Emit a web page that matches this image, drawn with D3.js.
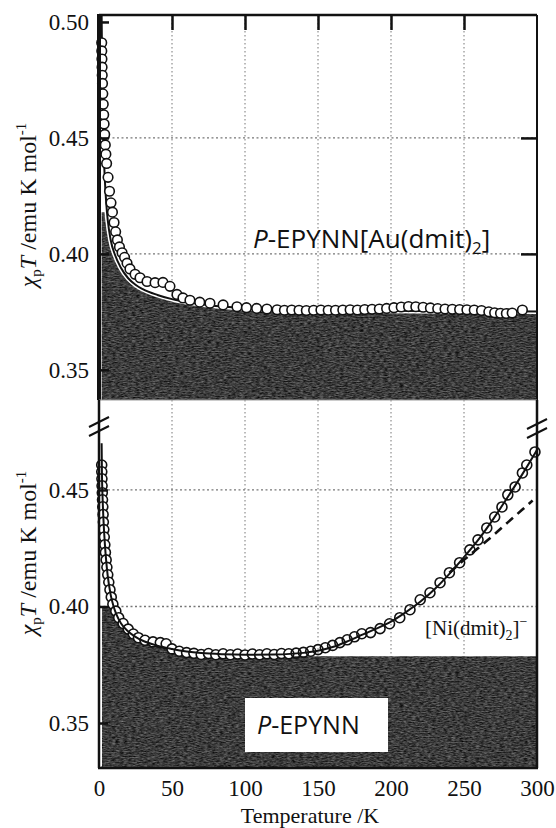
<!DOCTYPE html>
<html>
<head>
<meta charset="utf-8">
<script src="https://cdn.jsdelivr.net/npm/d3@7"></script>
<style>
  body { margin: 0; background: #fff; }
  svg { display: block; }
  .serif { font-family: "Liberation Serif", "Times New Roman", serif; fill: #111; }
  .sans { font-family: "Open Sans", Lato, sans-serif; fill: #111; }
</style>
</head>
<body>
<div id="chart"></div>
<script>
// top panel: P-EPYNN[Au(dmit)2]
var topT = [1.85, 1.9, 2.0, 2.1, 2.2, 2.4, 2.6, 2.9, 3.2, 3.5, 3.9, 4.3, 4.7, 5.2, 6.2, 7.2, 8.2, 9.2, 10.3, 11.4,
  12.6, 14.0, 15.8, 17.5, 19.2, 21.2, 24.7, 28.1, 32.9, 38.4, 43.8, 48.6, 53.4, 57.5, 62.3, 69, 76, 85, 94.5, 101,
  108, 115, 122, 127, 132, 137, 142, 147, 152, 157, 162, 167, 172, 177, 182, 187, 192, 197, 202, 207,
  212, 217, 222, 227, 232, 237, 242, 247, 252, 257, 262, 267, 271, 275, 279, 283, 290];
var topChiT = [0.491, 0.4875, 0.484, 0.4805, 0.477, 0.4735, 0.469, 0.4645, 0.460, 0.456, 0.4515, 0.447, 0.443, 0.439, 0.433, 0.427, 0.422, 0.418, 0.4135, 0.4095,
  0.4060, 0.4030, 0.4005, 0.3985, 0.3960, 0.3935, 0.3912, 0.3897, 0.3881, 0.3876, 0.3877, 0.3860, 0.3825, 0.3810, 0.3800, 0.3792, 0.3787, 0.3780, 0.3772, 0.3768,
  0.3765, 0.3762, 0.3759, 0.3757, 0.3758, 0.3757, 0.3756, 0.3757, 0.3758, 0.3757, 0.3757, 0.3758, 0.3759, 0.3758, 0.3760, 0.3761, 0.3762, 0.3765, 0.3768, 0.3771,
  0.3773, 0.3772, 0.3770, 0.3767, 0.3764, 0.3762, 0.3761, 0.3760, 0.3759, 0.3758, 0.3756, 0.3750, 0.3746, 0.3744, 0.3743, 0.3745, 0.3758];
var topFitT = [1.8, 2.0, 2.3, 2.7, 3.2, 4, 5, 6, 8, 11, 15, 20, 25, 30, 40, 50, 60, 80, 100, 150, 200, 250, 300];
var topFitChiT = [0.503, 0.490, 0.474, 0.458, 0.445, 0.432, 0.4215, 0.4145, 0.406, 0.3995, 0.394, 0.3895, 0.3867, 0.3848, 0.3823, 0.3805, 0.3792, 0.3775, 0.3766, 0.3758, 0.3755, 0.3753, 0.3752];

// bottom panel: P-EPYNN[Ni(dmit)2]
var botT = [1.85, 1.9, 2.0, 2.1, 2.25, 2.4, 2.6, 2.8, 3.0, 3.3, 3.6, 4.0, 4.4, 4.9, 5.4, 6.0, 6.7, 7.5, 8.4, 9.5,
  11.5, 13.5, 16.5, 20, 23.5, 27, 31.5, 37, 42, 46, 50, 55, 60, 65, 70, 75, 80, 85, 90, 95,
  100, 105, 110, 115, 120, 125, 130, 135, 140, 145, 150, 155, 160, 165, 170, 175, 180, 186, 192.5, 199,
  206, 213, 220, 226.7, 233.6, 240, 247, 254, 259.6, 265.6, 271, 276, 280, 285, 290, 293, 298.6];
var botChiT = [0.4607, 0.4578, 0.4548, 0.4518, 0.4488, 0.4458, 0.4428, 0.4395, 0.4362, 0.4330, 0.4298, 0.4265, 0.4232, 0.4200, 0.4168, 0.4136, 0.4104, 0.4072, 0.4040, 0.4010,
  0.3980, 0.3952, 0.3927, 0.3903, 0.3882, 0.3866, 0.3855, 0.3848, 0.3845, 0.3840, 0.3818, 0.3808, 0.3802, 0.3799, 0.3794, 0.3798, 0.3793, 0.3797, 0.3793, 0.3796,
  0.3792, 0.3796, 0.3793, 0.3797, 0.3794, 0.3798, 0.3797, 0.3800, 0.3803, 0.3808, 0.3815, 0.3823, 0.3833, 0.3845, 0.3857, 0.3870, 0.3883, 0.3888, 0.3905, 0.3926,
  0.3952, 0.3986, 0.4029, 0.4059, 0.4102, 0.4145, 0.4188, 0.4243, 0.4286, 0.4337, 0.4384, 0.4427, 0.4479, 0.4513, 0.4573, 0.4607, 0.4663];
var botFitT = [1.8, 2.0, 2.5, 3, 4, 5, 6, 8, 10, 12, 15, 20, 25, 30, 40, 50, 60, 70, 85, 100,
  120, 140, 150, 160, 170, 180, 190, 200, 210, 220, 230, 240, 250, 260, 270, 280, 290, 300];
var botFitChiT = [0.470, 0.458, 0.446, 0.438, 0.427, 0.419, 0.413, 0.405, 0.400, 0.3965, 0.3928, 0.3893, 0.3870, 0.3853, 0.3832, 0.3818, 0.3807, 0.3800, 0.3795, 0.3793,
  0.3794, 0.3801, 0.3810, 0.3826, 0.3850, 0.3878, 0.3905, 0.3935, 0.3975, 0.4020, 0.4075, 0.4140, 0.4212, 0.4288, 0.4375, 0.4470, 0.4568, 0.4672];
// dashed curve: [Ni(dmit)2]- contribution
var dashT = [240, 250, 260, 270, 280, 290, 297];
var dashChiT = [0.4145, 0.4200, 0.4252, 0.4305, 0.4361, 0.4416, 0.4455];

var xTicks = [0, 50, 100, 150, 200, 250, 300];
var yTicksTop = [0.35, 0.40, 0.45, 0.50];
var yTicksBot = [0.35, 0.40, 0.45];

var width = 556, height = 828;
var left = 99, right = 537;
var topY0 = 15, topY1 = 400, botY0 = 400, botY1 = 768;
var serifFont = '"Liberation Serif", "Times New Roman", serif';

var x = d3.scaleLinear().domain([0, 300]).range([left, right]);
var yTop = d3.scaleLinear().domain([0.337, 0.503]).range([topY1, topY0]);
var yBot = d3.scaleLinear().domain([0.3307, 0.4886]).range([botY1, botY0]);

var svg = d3.select('#chart').append('svg')
  .attr('width', width)
  .attr('height', height);

// grainy dark fill like the scanned figure
var f = svg.append('defs').append('filter')
  .attr('id', 'grain')
  .attr('x', 0).attr('y', 0).attr('width', '100%').attr('height', '100%')
  .attr('color-interpolation-filters', 'sRGB');
f.append('feTurbulence').attr('type', 'fractalNoise').attr('baseFrequency', '0.25 0.8')
  .attr('numOctaves', 3).attr('seed', 5).attr('result', 'n');
f.append('feColorMatrix').attr('in', 'n').attr('type', 'matrix')
  .attr('values', '0.55 0 0 0 -0.04  0.55 0 0 0 -0.04  0.55 0 0 0 -0.04  0 0 0 0 1').attr('result', 'g');
f.append('feComposite').attr('in', 'g').attr('in2', 'SourceGraphic').attr('operator', 'in');

function pairs(t, v) { return t.map(function (d, i) { return [d, v[i]]; }); }

// grid lines
function grid(yScale, y0, y1, hVals) {
  var g = svg.append('g');
  g.selectAll('line.v').data([50, 100, 150, 200, 250]).enter().append('line')
    .attr('x1', function (d) { return x(d); }).attr('x2', function (d) { return x(d); })
    .attr('y1', y0).attr('y2', y1)
    .attr('stroke', '#777').attr('stroke-width', 1).attr('stroke-dasharray', '1.5,2.5');
  g.selectAll('line.h').data(hVals).enter().append('line')
    .attr('x1', left).attr('x2', right)
    .attr('y1', function (d) { return yScale(d); }).attr('y2', function (d) { return yScale(d); })
    .attr('stroke', '#777').attr('stroke-width', 1.3).attr('stroke-dasharray', '2,2.5');
}
grid(yTop, topY0, topY1, [0.45, 0.40]);
grid(yBot, botY0, botY1, [0.45, 0.40]);

// dark shading under the curves
var topFit = pairs(topFitT, topFitChiT);
var botFit = pairs(botFitT, botFitChiT);
var botMin = d3.least(botFit, function (d) { return d[1]; });

svg.append('path')
  .datum(topFit)
  .attr('d', d3.area().curve(d3.curveMonotoneX)
    .x(function (d) { return x(d[0]); })
    .y0(topY1)
    .y1(function (d) { return yTop(Math.min(d[1], 0.418)); }))
  .style('fill', '#444')
  .attr('filter', 'url(#grain)');

svg.append('path')
  .datum(botFit.map(function (d) {
    return [d[0], d[0] <= botMin[0] ? Math.min(d[1], 0.40) : botMin[1] - 0.0006];
  }))
  .attr('d', d3.area().curve(d3.curveMonotoneX)
    .x(function (d) { return x(d[0]); })
    .y0(botY1)
    .y1(function (d) { return yBot(d[1]); }))
  .style('fill', '#444')
  .attr('filter', 'url(#grain)');

// white gap between axis and shading in lower panel
svg.append('line').attr('x1', left + 2).attr('x2', left + 2).attr('y1', yBot(0.40)).attr('y2', botY1 - 2)
  .attr('stroke', '#fff').attr('stroke-width', 2);

var lineTop = d3.line().curve(d3.curveMonotoneX)
  .x(function (d) { return x(d[0]); }).y(function (d) { return yTop(d[1]); });
var lineBot = d3.line().curve(d3.curveMonotoneX)
  .x(function (d) { return x(d[0]); }).y(function (d) { return yBot(d[1]); });

// top: fit line under open circles
svg.append('path').datum(topFit).attr('d', lineTop)
  .attr('fill', 'none').attr('stroke', '#fff').attr('stroke-width', 5);
svg.append('path').datum(topFit).attr('d', lineTop)
  .attr('fill', 'none').attr('stroke', '#111').attr('stroke-width', 2);

svg.append('g').selectAll('circle')
  .data(pairs(topT, topChiT))
  .enter()
  .append('circle')
  .attr('cx', function (d) { return x(d[0]); })
  .attr('cy', function (d) { return yTop(d[1]); })
  .attr('r', 4.8)
  .style('fill', '#fff')
  .style('stroke', '#111')
  .style('stroke-width', 1.6);

// bottom: circles, then fit lines through them
svg.append('g').selectAll('circle')
  .data(pairs(botT, botChiT))
  .enter()
  .append('circle')
  .attr('cx', function (d) { return x(d[0]); })
  .attr('cy', function (d) { return yBot(d[1]); })
  .attr('r', 5)
  .style('fill', function (d) { return d[0] > 130 ? 'none' : '#fff'; })
  .style('stroke', '#111')
  .style('stroke-width', 1.6);

svg.append('path').datum(pairs(dashT, dashChiT)).attr('d', lineBot)
  .attr('fill', 'none').attr('stroke', '#111').attr('stroke-width', 2.6)
  .attr('stroke-dasharray', '9,6');
svg.append('path').datum(botFit).attr('d', lineBot)
  .attr('fill', 'none').attr('stroke', '#111').attr('stroke-width', 2);

// frames
function seg(x1, y1, x2, y2, w, c) {
  svg.append('line').attr('x1', x1).attr('y1', y1).attr('x2', x2).attr('y2', y2)
    .attr('stroke', c || '#111').attr('stroke-width', w);
}
seg(left, topY0, right, topY0, 2.5);
seg(right, topY0, right, topY1, 2);
seg(left, topY0 - 1, left, topY1, 4);
seg(left, topY1, right, topY1, 1, '#999');
seg(left, botY0, left, botY1, 2.5);
seg(right, botY0, right, botY1, 2.5);
seg(left - 1, botY1, right + 1, botY1, 2.5);

// axis break marks
[[left, 422], [left, 431], [right, 424], [right, 433]].forEach(function (p) {
  seg(p[0] - 10, p[1] + 5, p[0] + 10, p[1] - 5, 2);
});

// ticks and tick labels
function styleAxis(g) {
  g.select('.domain').remove();
  g.attr('font-family', serifFont).attr('font-size', 23);
  g.selectAll('text').attr('fill', '#111');
  g.selectAll('line').attr('stroke', '#111').attr('stroke-width', 2.5);
}

svg.append('g').attr('transform', 'translate(0,' + topY0 + ')')
  .call(d3.axisTop(x).tickValues([50, 100, 150, 200, 250]).tickSize(-15).tickFormat(''))
  .call(styleAxis);

svg.append('g').attr('transform', 'translate(' + right + ',0)')
  .call(d3.axisRight(yTop).tickValues([0.45, 0.40]).tickSize(-16).tickFormat(''))
  .call(styleAxis);

svg.append('g').attr('transform', 'translate(' + left + ',0)')
  .call(d3.axisLeft(yTop).tickValues(yTicksTop).tickSize(-10).tickPadding(10).tickFormat(d3.format('.2f')))
  .call(styleAxis);

svg.append('g').attr('transform', 'translate(' + left + ',0)')
  .call(d3.axisLeft(yBot).tickValues(yTicksBot).tickSize(-9).tickPadding(10).tickFormat(d3.format('.2f')))
  .call(styleAxis);

svg.append('g').attr('transform', 'translate(0,' + botY1 + ')')
  .call(d3.axisBottom(x).tickValues(xTicks).tickSize(0).tickPadding(12).tickFormat(d3.format('d')))
  .call(styleAxis);

// axis titles
svg.append('text').attr('class', 'serif')
  .attr('x', 310).attr('y', 823)
  .attr('text-anchor', 'middle')
  .style('font-size', '22px')
  .text('Temperature /K');

function yLabel(cy) {
  var t = svg.append('text').attr('class', 'serif')
    .attr('transform', 'translate(36,' + cy + ') rotate(-90)')
    .attr('text-anchor', 'middle')
    .style('font-size', '24px');
  t.append('tspan').style('font-style', 'italic').text('\u03c7');
  t.append('tspan').attr('dy', 5).style('font-size', '15px').text('p');
  t.append('tspan').attr('dy', -5).style('font-style', 'italic').text('T');
  t.append('tspan').text(' /emu K mol');
  t.append('tspan').attr('dy', -10).style('font-size', '15px').text('-1');
}
yLabel(205);
yLabel(553);

// compound labels
var t1 = svg.append('text').attr('class', 'sans')
  .attr('x', 253).attr('y', 248)
  .style('font-size', '26px');
t1.append('tspan').style('font-style', 'italic').text('P');
t1.append('tspan').text('-EPYNN[Au(dmit)');
t1.append('tspan').attr('dy', 6).style('font-size', '17px').text('2');
t1.append('tspan').attr('dy', -6).text(']');

svg.append('rect').attr('x', 245).attr('y', 698).attr('width', 143).attr('height', 54)
  .style('fill', '#fff');
var t2 = svg.append('text').attr('class', 'sans')
  .attr('x', 257).attr('y', 734)
  .style('font-size', '25px');
t2.append('tspan').style('font-style', 'italic').text('P');
t2.append('tspan').text('-EPYNN');

var t3 = svg.append('text').attr('class', 'serif')
  .attr('x', 425).attr('y', 635)
  .style('font-size', '21px');
t3.append('tspan').text('[Ni(dmit)');
t3.append('tspan').attr('dy', 5).style('font-size', '14px').text('2');
t3.append('tspan').attr('dy', -5).text(']');
t3.append('tspan').attr('dy', -9).style('font-size', '14px').text('\u2212');
</script>
</body>
</html>
